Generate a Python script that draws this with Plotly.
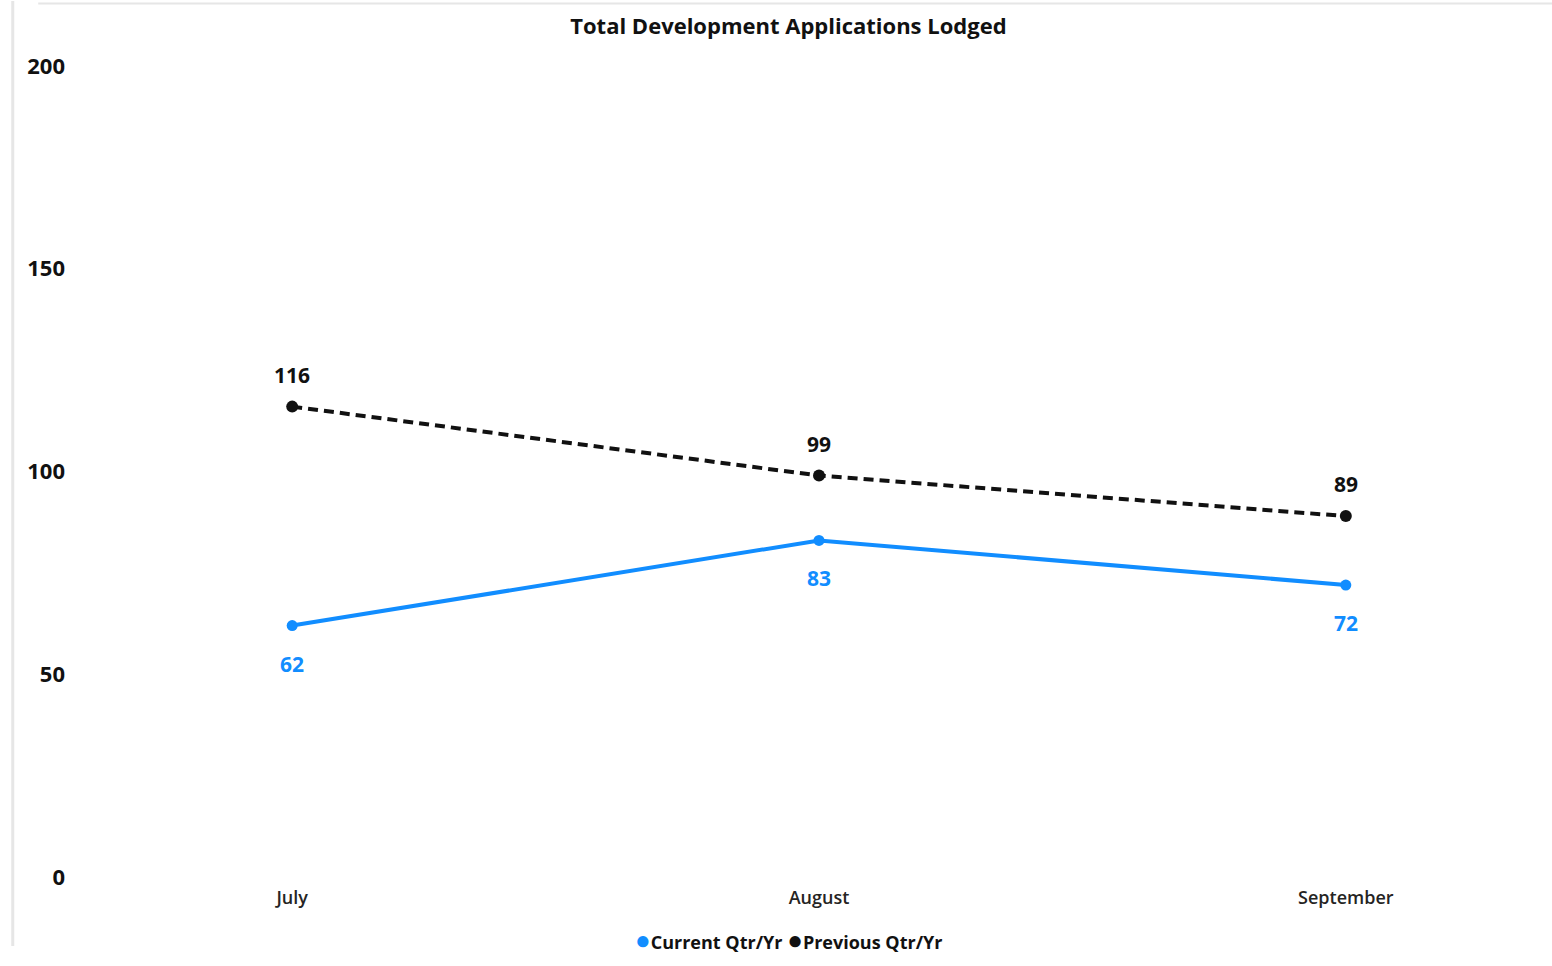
import plotly.graph_objects as go

months = ["July", "August", "September"]
current_qtr = [62, 83, 72]
previous_qtr = [116, 99, 89]
y_ticks = [0, 50, 100, 150, 200]
series_names = ["Current Qtr/Yr", "Previous Qtr/Yr"]

BLUE = "#118DFF"
BLACK = "#111111"
FONT = "Open Sans, Segoe UI, sans-serif"

fig = go.Figure()

# Previous quarter: dashed black line
fig.add_trace(go.Scatter(
    x=months, y=previous_qtr, mode="lines+markers",
    line=dict(color=BLACK, width=4, dash="10px,6px"),
    marker=dict(color=BLACK, size=12),
    name=series_names[1], showlegend=False, cliponaxis=False,
))

# Current quarter: solid blue line
fig.add_trace(go.Scatter(
    x=months, y=current_qtr, mode="lines+markers",
    line=dict(color=BLUE, width=4),
    marker=dict(color=BLUE, size=11),
    name=series_names[0], showlegend=False, cliponaxis=False,
))

# Data labels: previous above the points, current below
for m, v in zip(months, previous_qtr):
    fig.add_annotation(x=m, y=v, text=f"<b>{v}</b>", showarrow=False, yshift=32,
                       font=dict(family=FONT, size=21, color=BLACK))
for m, v in zip(months, current_qtr):
    fig.add_annotation(x=m, y=v, text=f"<b>{v}</b>", showarrow=False, yshift=-38,
                       font=dict(family=FONT, size=21, color=BLUE))

# Compact legend row under the axis
dot = "<span style='color:{};font-size:26px'>●</span>"
legend_text = (f"{dot.format(BLUE)}{series_names[0]} "
               f"{dot.format(BLACK)}{series_names[1]}")
fig.add_annotation(xref="paper", yref="paper", x=0.479, y=-0.076,
                   xanchor="center", yanchor="middle", showarrow=False,
                   text=f"<b>{legend_text}</b>",
                   font=dict(family=FONT, size=18, color=BLACK))

fig.update_layout(
    width=1552, height=966,
    margin=dict(l=92, r=6, t=66, b=89),
    paper_bgcolor="white", plot_bgcolor="white",
    showlegend=False,
    title=dict(text="<b>Total Development Applications Lodged</b>",
               x=0.508, xanchor="center", y=0.973, yanchor="middle",
               font=dict(family=FONT, size=22, color=BLACK)),
    font=dict(family=FONT),
    xaxis=dict(type="category", range=[-0.38, 2.38], showgrid=False, zeroline=False,
               showline=False, ticks="", ticklabelstandoff=8,
               tickfont=dict(family=FONT, size=18, color="#252423", weight=600)),
    yaxis=dict(range=[0, 200], tickvals=y_ticks, showgrid=False, zeroline=False,
               showline=False, ticks="", ticklabelstandoff=26,
               tickfont=dict(family=FONT, size=22, color=BLACK, weight="bold")),
)

# Faint frame edges along the left and top of the visual
fig.add_shape(type="line", xref="paper", yref="paper",
              x0=-0.0545, x1=-0.0545, y0=-0.085, y1=1.08,
              line=dict(color="#e6e6e6", width=3))
fig.add_shape(type="line", xref="paper", yref="paper",
              x0=-0.037, x1=1.01, y0=1.077, y1=1.077,
              line=dict(color="#e6e6e6", width=2))

fig.write_html("out.html")
